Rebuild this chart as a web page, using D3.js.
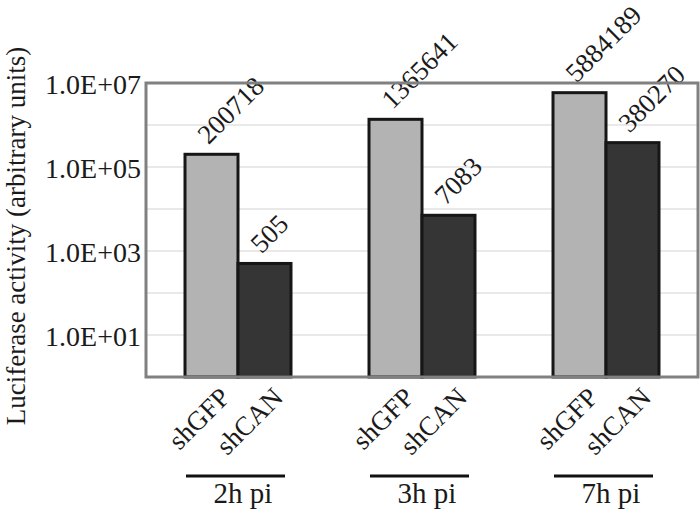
<!DOCTYPE html>
<html lang="en">
<head>
    <meta charset="UTF-8">
    <title>Luciferase activity</title>
    <script src="https://d3js.org/d3.v7.min.js"></script>
    <style>
        body { margin: 0; background: #fff; }
        svg text { font-family: "Liberation Serif", "Times New Roman", Times, "DejaVu Serif", serif; fill: #1a1a1a; }
    </style>
</head>
<body>
    <svg width="700" height="512"></svg>
    <script>
        const groups = ["2h pi", "3h pi", "7h pi"];
        const conditions = ["shGFP", "shCAN"];
        const shGFP = [200718, 1365641, 5884189];
        const shCAN = [505, 7083, 380270];
        const yTicks = [1e1, 1e3, 1e5, 1e7];
        const gridValues = [1e1, 1e2, 1e3, 1e4, 1e5, 1e6];
        const colors = {shGFP: "#b3b3b3", shCAN: "#353535"};

        const series = {shGFP, shCAN};
        const data = groups.map((g, i) => ({
            group: g,
            values: conditions.map(c => ({cond: c, value: series[c][i]}))
        }));

        const svg = d3.select("svg");
        const margin = {top: 83, right: 2, bottom: 135, left: 146};
        const width = 700 - margin.left - margin.right;
        const height = 512 - margin.top - margin.bottom;
        const g = svg.append("g").attr("transform", `translate(${margin.left},${margin.top})`);

        const x0 = d3.scaleBand()
            .domain(groups)
            .range([0, width])
            .paddingInner(0.424)
            .paddingOuter(0.212);
        const x1 = d3.scaleBand()
            .domain(conditions)
            .range([0, x0.bandwidth()]);
        const y = d3.scaleLog()
            .domain([1, 1e7])
            .range([height, 0]);

        // gridlines
        g.selectAll(".grid")
            .data(gridValues)
            .enter().append("line")
            .attr("x1", 0).attr("x2", width)
            .attr("y1", d => y(d)).attr("y2", d => y(d))
            .attr("stroke", "#d4d4d4")
            .attr("stroke-width", 1.2);

        // y axis labels
        const yAxis = g.append("g")
            .call(d3.axisLeft(y).tickValues(yTicks).tickSize(0).tickPadding(5)
                .tickFormat(d => "1.0E+" + String(Math.round(Math.log10(d))).padStart(2, "0")));
        yAxis.select(".domain").remove();
        yAxis.selectAll("text")
            .attr("font-size", 28)
            .attr("dy", "0.36em");

        // bars
        const grp = g.selectAll(".group")
            .data(data)
            .enter().append("g")
            .attr("transform", d => `translate(${x0(d.group)},0)`);

        grp.selectAll("rect")
            .data(d => d.values)
            .enter().append("rect")
            .attr("x", d => x1(d.cond))
            .attr("y", d => y(d.value))
            .attr("width", x1.bandwidth())
            .attr("height", d => height - y(d.value))
            .attr("fill", d => colors[d.cond])
            .attr("stroke", "#161616")
            .attr("stroke-width", 3);

        // value labels
        grp.selectAll(".val")
            .data(d => d.values)
            .enter().append("text")
            .attr("transform", d => `translate(${x1(d.cond) + x1.bandwidth() / 2 - 3},${y(d.value) - 9}) rotate(-45)`)
            .attr("font-size", 27)
            .text(d => d.value);

        // category labels
        grp.selectAll(".cat")
            .data(d => d.values)
            .enter().append("text")
            .attr("transform", d => `translate(${x1(d.cond) + x1.bandwidth() / 2 + 20},${height + 22}) rotate(-45)`)
            .attr("text-anchor", "end")
            .attr("font-size", 27)
            .text(d => d.cond);

        // group underline and label
        grp.append("line")
            .attr("x1", x0.bandwidth() / 2 - 52)
            .attr("x2", x0.bandwidth() / 2 + 47)
            .attr("y1", height + 99)
            .attr("y2", height + 99)
            .attr("stroke", "#111")
            .attr("stroke-width", 3);
        grp.append("text")
            .attr("x", x0.bandwidth() / 2 + 5)
            .attr("y", height + 126)
            .attr("text-anchor", "middle")
            .attr("font-size", 29)
            .text(d => d.group);

        // plot border
        g.append("rect")
            .attr("width", width)
            .attr("height", height)
            .attr("fill", "none")
            .attr("stroke", "#808080")
            .attr("stroke-width", 3);

        // y axis title
        svg.append("text")
            .attr("transform", `translate(25,${margin.top + height / 2 + 6}) rotate(-90)`)
            .attr("text-anchor", "middle")
            .attr("font-size", 27)
            .text("Luciferase activity (arbitrary units)");
    </script>
</body>
</html>
